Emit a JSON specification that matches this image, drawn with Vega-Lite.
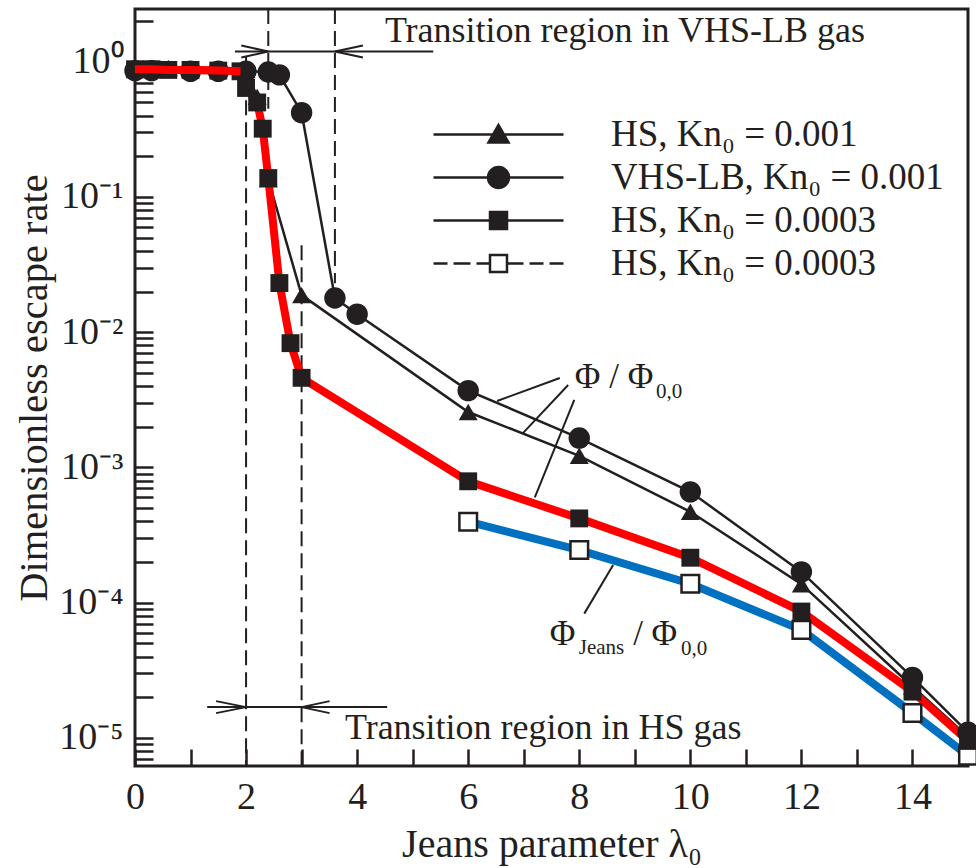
{
  "$schema": "https://vega.github.io/schema/vega-lite/v6.json",
  "width": 833,
  "height": 757,
  "autosize": {"type": "none"},
  "padding": {"left": 135, "top": 9, "right": 8, "bottom": 102},
  "background": "white",
  "config": {
    "font": "Liberation Serif",
    "view": {"stroke": "#231f20", "strokeWidth": 3},
    "axis": {
      "domain": false,
      "grid": false,
      "labelColor": "#231f20",
      "titleColor": "#231f20",
      "labelFont": "Liberation Serif",
      "titleFont": "Liberation Serif",
      "titleFontWeight": "normal",
      "labelFlush": false,
      "labelOverlap": false,
      "labelBound": false
    }
  },
  "datasets": {
    "rates": [
      {"series": "a", "lam": 0, "rate": 0.9},
      {"series": "a", "lam": 0.3, "rate": 0.9},
      {"series": "a", "lam": 0.6, "rate": 0.9},
      {"series": "a", "lam": 1, "rate": 0.89},
      {"series": "a", "lam": 1.5, "rate": 0.89},
      {"series": "a", "lam": 2, "rate": 0.87},
      {"series": "a", "lam": 2.2, "rate": 0.55},
      {"series": "a", "lam": 2.4, "rate": 0.135},
      {"series": "a", "lam": 3, "rate": 0.0188},
      {"series": "a", "lam": 6, "rate": 0.00257},
      {"series": "a", "lam": 8, "rate": 0.00122},
      {"series": "a", "lam": 10, "rate": 0.00047},
      {"series": "a", "lam": 12, "rate": 0.000137},
      {"series": "a", "lam": 14, "rate": 0.000024},
      {"series": "a", "lam": 15, "rate": 0.0000102},
      {"series": "b", "lam": 0, "rate": 0.86},
      {"series": "b", "lam": 0.3, "rate": 0.86},
      {"series": "b", "lam": 1, "rate": 0.85},
      {"series": "b", "lam": 1.5, "rate": 0.85},
      {"series": "b", "lam": 2, "rate": 0.85},
      {"series": "b", "lam": 2.4, "rate": 0.84},
      {"series": "b", "lam": 2.6, "rate": 0.8},
      {"series": "b", "lam": 3, "rate": 0.42},
      {"series": "b", "lam": 3.6, "rate": 0.0179},
      {"series": "b", "lam": 4, "rate": 0.0136},
      {"series": "b", "lam": 6, "rate": 0.0037},
      {"series": "b", "lam": 8, "rate": 0.00165},
      {"series": "b", "lam": 10, "rate": 0.00066},
      {"series": "b", "lam": 12, "rate": 0.000169},
      {"series": "b", "lam": 14, "rate": 0.000028},
      {"series": "b", "lam": 15, "rate": 0.000011},
      {"series": "c", "lam": 0, "rate": 0.88},
      {"series": "c", "lam": 0.3, "rate": 0.88},
      {"series": "c", "lam": 0.6, "rate": 0.87},
      {"series": "c", "lam": 1, "rate": 0.87},
      {"series": "c", "lam": 1.5, "rate": 0.86},
      {"series": "c", "lam": 1.9, "rate": 0.85},
      {"series": "c", "lam": 2, "rate": 0.64},
      {"series": "c", "lam": 2.2, "rate": 0.5},
      {"series": "c", "lam": 2.3, "rate": 0.32},
      {"series": "c", "lam": 2.4, "rate": 0.138},
      {"series": "c", "lam": 2.6, "rate": 0.0231},
      {"series": "c", "lam": 2.8, "rate": 0.0083},
      {"series": "c", "lam": 3, "rate": 0.0046},
      {"series": "c", "lam": 6, "rate": 0.00079},
      {"series": "c", "lam": 8, "rate": 0.00042},
      {"series": "c", "lam": 10, "rate": 0.000215},
      {"series": "c", "lam": 12, "rate": 0.000086},
      {"series": "c", "lam": 14, "rate": 0.000022},
      {"series": "c", "lam": 15, "rate": 0.0000095},
      {"series": "d", "lam": 6, "rate": 0.000397},
      {"series": "d", "lam": 8, "rate": 0.000245},
      {"series": "d", "lam": 10, "rate": 0.000138},
      {"series": "d", "lam": 12, "rate": 0.000063},
      {"series": "d", "lam": 14, "rate": 0.0000153},
      {"series": "d", "lam": 15, "rate": 0.0000074}
    ]
  },
  "layer": [
    {
      "data": {"values": [{}]},
      "mark": {"type": "rule", "strokeDash": [15, 7], "strokeWidth": 2, "color": "#231f20"},
      "encoding": {"x": {"datum": 2, "type": "quantitative"}, "y": {"datum": 1.1, "type": "quantitative"}, "y2": {"datum": 0.0000062}}
    },
    {
      "data": {"values": [{}]},
      "mark": {"type": "rule", "strokeDash": [15, 7], "strokeWidth": 2, "color": "#231f20"},
      "encoding": {"x": {"datum": 3, "type": "quantitative"}, "y": {"datum": 0.044, "type": "quantitative"}, "y2": {"datum": 0.0000062}}
    },
    {
      "data": {"values": [{}]},
      "mark": {"type": "rule", "strokeDash": [15, 7], "strokeWidth": 2, "color": "#231f20"},
      "encoding": {"x": {"datum": 2.4, "type": "quantitative"}, "y": {"datum": 2.455, "type": "quantitative"}, "y2": {"datum": 0.45}}
    },
    {
      "data": {"values": [{}]},
      "mark": {"type": "rule", "strokeDash": [15, 7], "strokeWidth": 2, "color": "#231f20"},
      "encoding": {"x": {"datum": 3.6, "type": "quantitative"}, "y": {"datum": 2.455, "type": "quantitative"}, "y2": {"datum": 0.023}}
    },
    {
      "data": {"values": [{}]},
      "mark": {"type": "rule", "strokeWidth": 2, "color": "#231f20"},
      "encoding": {"x": {"datum": 1.8, "type": "quantitative"}, "x2": {"datum": 5.37}, "y": {"datum": 1.19, "type": "quantitative"}}
    },
    {
      "data": {"values": [{}]},
      "mark": {"type": "rule", "strokeWidth": 2, "color": "#231f20"},
      "encoding": {"x": {"datum": 1.3, "type": "quantitative"}, "x2": {"datum": 4.54}, "y": {"datum": 0.0000169, "type": "quantitative"}}
    },
    {
      "data": {"values": [{}]},
      "mark": {"type": "point", "shape": "M-27,-6L0,0L-27,6", "size": 4, "filled": false, "strokeWidth": 2, "color": "#231f20", "opacity": 1},
      "encoding": {"x": {"datum": 2.4, "type": "quantitative"}, "y": {"datum": 1.19, "type": "quantitative"}}
    },
    {
      "data": {"values": [{}]},
      "mark": {"type": "point", "shape": "M28,-6L0,0L28,6", "size": 4, "filled": false, "strokeWidth": 2, "color": "#231f20", "opacity": 1},
      "encoding": {"x": {"datum": 3.6, "type": "quantitative"}, "y": {"datum": 1.19, "type": "quantitative"}}
    },
    {
      "data": {"values": [{}]},
      "mark": {"type": "point", "shape": "M-30,-6L0,0L-30,6", "size": 4, "filled": false, "strokeWidth": 2, "color": "#231f20", "opacity": 1},
      "encoding": {"x": {"datum": 2, "type": "quantitative"}, "y": {"datum": 0.0000169, "type": "quantitative"}}
    },
    {
      "data": {"values": [{}]},
      "mark": {"type": "point", "shape": "M28,-6L0,0L28,6", "size": 4, "filled": false, "strokeWidth": 2, "color": "#231f20", "opacity": 1},
      "encoding": {"x": {"datum": 3, "type": "quantitative"}, "y": {"datum": 0.0000169, "type": "quantitative"}}
    },
    {
      "data": {"name": "rates"},
      "encoding": {
        "x": {
          "field": "lam",
          "type": "quantitative",
          "scale": {"domain": [0, 15], "nice": false, "zero": false},
          "axis": {
            "orient": "bottom",
            "values": [0, 0.5, 1, 1.5, 2, 2.5, 3, 3.5, 4, 4.5, 5, 5.5, 6, 6.5, 7, 7.5, 8, 8.5, 9, 9.5, 10, 10.5, 11, 11.5, 12, 12.5, 13, 13.5, 14, 14.5],
            "ticks": true,
            "tickColor": "#231f20",
            "tickWidth": 2.5,
            "tickSize": -17,
            "labelFontSize": 38,
            "labelPadding": 29,
            "labelExpr": "datum.value % 2 === 0 ? datum.label : ''",
            "title": "Jeans parameter λ₀",
            "titleFontSize": 40,
            "titlePadding": 8,
            "encode": {
              "ticks": {"update": {"y2": {"signal": "datum.value % 2 === 0 ? -17 : -10"}}}
            }
          }
        },
        "y": {
          "field": "rate",
          "type": "quantitative",
          "scale": {"type": "log", "domain": [0.0000062, 2.455], "nice": false},
          "axis": {
            "orient": "left",
            "values": [0.000007, 0.000008, 0.000009, 0.00001, 0.00002, 0.00003, 0.00004, 0.00005, 0.00006, 0.00007, 0.00008, 0.00009, 0.0001, 0.0002, 0.0003, 0.0004, 0.0005, 0.0006, 0.0007, 0.0008, 0.0009, 0.001, 0.002, 0.003, 0.004, 0.005, 0.006, 0.007, 0.008, 0.009, 0.01, 0.02, 0.03, 0.04, 0.05, 0.06, 0.07, 0.08, 0.09, 0.1, 0.2, 0.3, 0.4, 0.5, 0.6, 0.7, 0.8, 0.9, 1, 2],
            "ticks": true,
            "tickColor": "#231f20",
            "tickWidth": 2.5,
            "tickSize": -18,
            "labelFontSize": 38,
            "labelPadding": 30,
            "labelExpr": "abs(log(datum.value) / LN10 - round(log(datum.value) / LN10)) > 0.001 ? '' : '10' + (datum.value >= 0.5 ? '⁰' : datum.value >= 0.05 ? '⁻¹' : datum.value >= 0.005 ? '⁻²' : datum.value >= 0.0005 ? '⁻³' : datum.value >= 0.00005 ? '⁻⁴' : '⁻⁵')",
            "title": "Dimensionless escape rate",
            "titleFontSize": 40.5,
            "titlePadding": 3,
            "encode": {
              "ticks": {"update": {"x2": {"signal": "abs(log(datum.value) / LN10 - round(log(datum.value) / LN10)) > 0.001 ? 10 : 18"}}}
            }
          }
        }
      },
      "layer": [
        {
          "transform": [{"filter": "datum.series === 'a'"}],
          "mark": {"type": "line", "color": "#231f20", "strokeWidth": 2.5}
        },
        {
          "transform": [{"filter": "datum.series === 'b'"}],
          "mark": {"type": "line", "color": "#231f20", "strokeWidth": 2.5}
        },
        {
          "transform": [{"filter": "datum.series === 'c'"}],
          "mark": {"type": "line", "color": "#231f20", "strokeWidth": 2.5}
        },
        {
          "transform": [{"filter": "datum.series === 'c'"}],
          "mark": {"type": "line", "color": "#ff0000", "strokeWidth": 8}
        },
        {
          "transform": [{"filter": "datum.series === 'd'"}],
          "mark": {"type": "line", "color": "#0070c0", "strokeWidth": 8}
        },
        {
          "transform": [{"filter": "datum.series === 'd'"}],
          "mark": {"type": "point", "shape": "square", "size": 310, "filled": true, "fill": "white", "stroke": "#231f20", "strokeWidth": 2.5, "opacity": 1}
        },
        {
          "transform": [{"filter": "datum.series === 'c'"}],
          "mark": {"type": "point", "shape": "square", "size": 320, "filled": true, "color": "#231f20", "opacity": 1}
        },
        {
          "transform": [{"filter": "datum.series === 'a'"}],
          "mark": {"type": "point", "shape": "triangle-up", "size": 360, "filled": true, "color": "#231f20", "opacity": 1}
        },
        {
          "transform": [{"filter": "datum.series === 'b'"}],
          "mark": {"type": "point", "shape": "circle", "size": 460, "filled": true, "color": "#231f20", "opacity": 1}
        },
        {
          "transform": [{"filter": "datum.series === 'c' && datum.lam <= 1.9"}],
          "mark": {"type": "line", "color": "#ff0000", "strokeWidth": 8}
        },
        {
          "mark": {"type": "point", "filled": true, "opacity": 0},
          "encoding": {
            "shape": {
              "field": "series",
              "type": "nominal",
              "scale": {
                "domain": ["a", "b", "c", "d"],
                "range": [
                  "M-6.5,0H6.5M0,-0.95L1,0.8L-1,0.8Z",
                  "M-6.5,0H6.5M1.05,0A1.05,1.05 0 1,1 -1.05,0A1.05,1.05 0 1,1 1.05,0Z",
                  "M-6.5,0H6.5M-0.85,-0.85H0.85V0.85H-0.85Z",
                  "M-6.5,0H-5.1M-4.5,0H-2.8M-2.2,0H-0.85M0.85,0H2.5M3.1,0H4.5M5.1,0H6.5M-0.85,-0.85H0.85V0.85H-0.85Z"
                ]
              },
              "legend": {
                "orient": "none",
                "legendX": 345,
                "legendY": 107,
                "padding": 0,
                "title": null,
                "symbolSize": 400,
                "symbolOpacity": 1,
                "symbolStrokeColor": "#231f20",
                "symbolStrokeWidth": 2.5,
                "labelFont": "Liberation Serif",
                "labelFontSize": 37,
                "labelColor": "#231f20",
                "labelOffset": 94,
                "labelLimit": 600,
                "rowPadding": 5,
                "labelExpr": "datum.label === 'a' ? 'HS, Kn₀ = 0.001' : datum.label === 'b' ? 'VHS-LB, Kn₀ = 0.001' : 'HS, Kn₀ = 0.0003'"
              }
            },
            "fill": {
              "field": "series",
              "type": "nominal",
              "scale": {"domain": ["a", "b", "c", "d"], "range": ["#231f20", "#231f20", "#231f20", "white"]}
            },
            "stroke": {
              "field": "series",
              "type": "nominal",
              "scale": {"domain": ["a", "b", "c", "d"], "range": ["#231f20", "#231f20", "#231f20", "#231f20"]}
            }
          }
        }
      ]
    },
    {
      "data": {"values": [{}]},
      "mark": {"type": "rule", "strokeWidth": 2, "color": "#231f20"},
      "encoding": {"x": {"datum": 7.65, "type": "quantitative"}, "y": {"datum": 0.00459, "type": "quantitative"}, "x2": {"datum": 6.52}, "y2": {"datum": 0.0031}}
    },
    {
      "data": {"values": [{}]},
      "mark": {"type": "rule", "strokeWidth": 2, "color": "#231f20"},
      "encoding": {"x": {"datum": 7.8, "type": "quantitative"}, "y": {"datum": 0.00407, "type": "quantitative"}, "x2": {"datum": 6.99}, "y2": {"datum": 0.0018}}
    },
    {
      "data": {"values": [{}]},
      "mark": {"type": "rule", "strokeWidth": 2, "color": "#231f20"},
      "encoding": {"x": {"datum": 7.91, "type": "quantitative"}, "y": {"datum": 0.00316, "type": "quantitative"}, "x2": {"datum": 7.2}, "y2": {"datum": 0.0006}}
    },
    {
      "data": {"values": [{}]},
      "mark": {"type": "rule", "strokeWidth": 2, "color": "#231f20"},
      "encoding": {"x": {"datum": 8.61, "type": "quantitative"}, "y": {"datum": 0.00019, "type": "quantitative"}, "x2": {"datum": 8.09}, "y2": {"datum": 0.000083}}
    },
    {
      "data": {"values": [{}]},
      "mark": {"type": "text", "text": "Transition region in VHS-LB gas", "align": "left", "baseline": "alphabetic", "fontSize": 36, "color": "#231f20"},
      "encoding": {"x": {"datum": 4.5, "type": "quantitative"}, "y": {"datum": 1.41, "type": "quantitative"}}
    },
    {
      "data": {"values": [{}]},
      "mark": {"type": "text", "text": "Transition region in HS gas", "align": "left", "baseline": "alphabetic", "fontSize": 36, "color": "#231f20"},
      "encoding": {"x": {"datum": 3.78, "type": "quantitative"}, "y": {"datum": 0.0000098, "type": "quantitative"}}
    },
    {
      "data": {"values": [{}]},
      "mark": {"type": "text", "text": "Φ / Φ", "align": "left", "baseline": "alphabetic", "fontSize": 35, "color": "#231f20"},
      "encoding": {"x": {"datum": 7.92, "type": "quantitative"}, "y": {"datum": 0.00387, "type": "quantitative"}}
    },
    {
      "data": {"values": [{}]},
      "mark": {"type": "text", "text": "0,0", "align": "left", "baseline": "alphabetic", "fontSize": 21, "color": "#231f20"},
      "encoding": {"x": {"datum": 9.38, "type": "quantitative"}, "y": {"datum": 0.00327, "type": "quantitative"}}
    },
    {
      "data": {"values": [{}]},
      "mark": {"type": "text", "text": "Φ", "align": "left", "baseline": "alphabetic", "fontSize": 35, "color": "#231f20"},
      "encoding": {"x": {"datum": 7.47, "type": "quantitative"}, "y": {"datum": 0.0000487, "type": "quantitative"}}
    },
    {
      "data": {"values": [{}]},
      "mark": {"type": "text", "text": "Jeans", "align": "left", "baseline": "alphabetic", "fontSize": 21, "color": "#231f20"},
      "encoding": {"x": {"datum": 7.99, "type": "quantitative"}, "y": {"datum": 0.0000416, "type": "quantitative"}}
    },
    {
      "data": {"values": [{}]},
      "mark": {"type": "text", "text": "/ Φ", "align": "left", "baseline": "alphabetic", "fontSize": 35, "color": "#231f20"},
      "encoding": {"x": {"datum": 8.97, "type": "quantitative"}, "y": {"datum": 0.0000487, "type": "quantitative"}}
    },
    {
      "data": {"values": [{}]},
      "mark": {"type": "text", "text": "0,0", "align": "left", "baseline": "alphabetic", "fontSize": 21, "color": "#231f20"},
      "encoding": {"x": {"datum": 9.83, "type": "quantitative"}, "y": {"datum": 0.000041, "type": "quantitative"}}
    }
  ]
}
